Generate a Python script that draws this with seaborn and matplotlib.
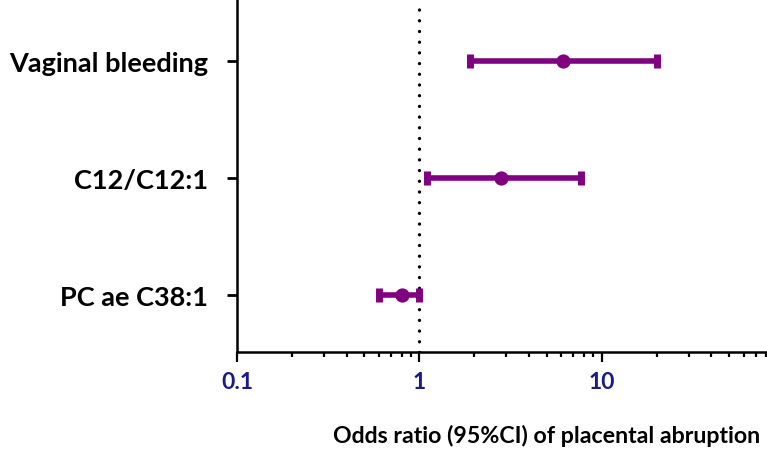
import numpy as np
import pandas as pd
import matplotlib
matplotlib.use("Agg")
import matplotlib.pyplot as plt
import matplotlib.ticker as mticker
import seaborn as sns

labels = ["Vaginal bleeding", "C12/C12:1", "PC ae C38:1"]
odds = [6.1, 2.8, 0.80]
lower = [1.9, 1.1, 0.60]
upper = [20.0, 7.7, 1.0]
xtick_vals = [0.1, 1, 10]
xtick_labels = ["0.1", "1", "10"]

sns.set_style("ticks")
plt.rcParams["font.family"] = ["Lato", "DejaVu Sans"]

purple = "#800080"
navy = "#1a1a8c"

df = pd.DataFrame({"label": labels, "OR": odds, "lo": lower, "hi": upper})
df["pos"] = np.arange(len(df))

fig = plt.figure(figsize=(7.67, 4.77), dpi=100)
ax = fig.add_axes([237 / 767, 124 / 477, 547 / 767, 353 / 477])

ax.axvline(1, color="black", lw=2.4, ls=(0, (0.01, 3.2)),
           dash_capstyle="round", zorder=1)

ax.errorbar(df["OR"], df["pos"],
            xerr=[df["OR"] - df["lo"], df["hi"] - df["OR"]],
            fmt="none", ecolor=purple, elinewidth=4,
            capsize=5, capthick=5, zorder=2)
sns.scatterplot(data=df, x="OR", y="pos", color=purple, s=105,
                edgecolor=purple, linewidth=0, ax=ax, zorder=3)

ax.set_xscale("log")
ax.set_xlim(0.1, 100)
ax.set_ylim(2.49, -0.53)

ax.set_yticks(df["pos"])
ax.set_yticklabels(df["label"], fontsize=19.5, fontweight="bold", color="black")
ax.set_xticks(xtick_vals)
ax.set_xticklabels(xtick_labels, fontsize=16.5, fontweight="bold", color=navy)
ax.xaxis.set_minor_locator(mticker.LogLocator(base=10, subs=np.arange(2, 10)))
ax.xaxis.set_minor_formatter(mticker.NullFormatter())

ax.tick_params(axis="y", length=7, width=2, pad=14, color="black")
ax.tick_params(axis="x", which="major", length=7, width=1.6, pad=7, color="black")
ax.tick_params(axis="x", which="minor", length=3.5, width=1.6, color="black")

for side in ["top", "right"]:
    ax.spines[side].set_visible(False)
for side in ["left", "bottom"]:
    ax.spines[side].set_linewidth(1.8)
    ax.spines[side].set_color("black")

ax.set_xlabel("Odds ratio (95%CI) of placental abruption", fontsize=16.7,
              fontweight="bold", color="black", loc="right")
ax.xaxis.set_label_coords((760 - 237) / 547, -0.205)
ax.set_ylabel("")

fig.savefig("out.png", dpi=100)
